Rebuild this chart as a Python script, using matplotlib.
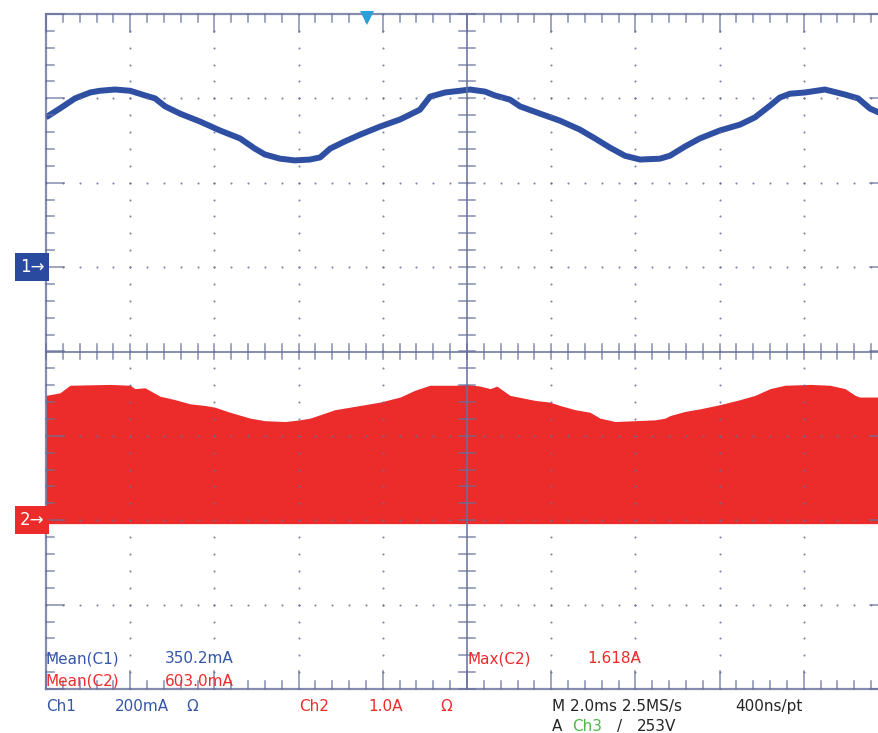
import numpy as np
import matplotlib
matplotlib.use('Agg')
import matplotlib.pyplot as plt

# Canal 1 (200 mA/div), curva azul: tiempo en ms, corriente en mA
t1_ms = [0.00, 0.33, 0.69, 1.05, 1.28, 1.64, 2.00, 2.35, 2.59, 2.83, 3.18, 3.66,
         4.13, 4.61, 4.96, 5.20, 5.56, 5.91, 6.27, 6.51, 6.75, 7.10, 7.46, 7.93,
         8.41, 8.88, 9.12, 9.48, 9.83, 10.07, 10.43, 10.66, 11.02, 11.26, 11.73,
         12.21, 12.68, 13.04, 13.40, 13.75, 14.11, 14.58, 14.82, 15.18, 15.53,
         16.01, 16.49, 16.84, 17.20, 17.43, 17.67, 18.03, 18.50, 18.98, 19.29,
         19.57, 19.79]
ch1_ma = [355, 376, 400, 414, 418, 421, 418, 407, 400, 381, 364, 345,
          324, 305, 281, 267, 257, 253, 255, 260, 281, 298, 314, 333,
          350, 373, 404, 414, 418, 421, 416, 407, 397, 381, 364,
          347, 326, 305, 283, 264, 255, 257, 264, 286, 305,
          324, 338, 355, 383, 402, 411, 414, 421, 409, 400,
          376, 366]

# Canal 2 (1.0 A/div), envolvente roja: tiempo en ms, corriente max en A
t2_ms = [0.00, 0.33, 0.57, 1.52, 2.00, 2.11, 2.35, 2.71, 3.06, 3.42, 3.78, 4.01,
         4.37, 4.85, 5.20, 5.68, 6.03, 6.27, 6.51, 6.86, 7.46, 7.93, 8.41, 8.76,
         9.12, 9.72, 10.00, 10.31, 10.55, 10.71, 11.02, 11.62, 11.97, 12.21,
         12.57, 12.92, 13.16, 13.52, 13.99, 14.47, 14.70, 14.82, 15.18, 15.53,
         16.01, 16.49, 16.84, 17.20, 17.55, 18.15, 18.62, 18.98, 19.22, 19.33,
         19.79]
ch2_max_a = [1.48, 1.51, 1.60, 1.61, 1.60, 1.56, 1.57, 1.47, 1.43, 1.38, 1.36, 1.34,
             1.28, 1.21, 1.18, 1.17, 1.19, 1.21, 1.25, 1.31, 1.36, 1.40, 1.46, 1.54,
             1.60, 1.60, 1.61, 1.59, 1.56, 1.59, 1.48, 1.42, 1.40, 1.36,
             1.31, 1.28, 1.21, 1.17, 1.18, 1.19, 1.21, 1.24, 1.29, 1.32,
             1.37, 1.43, 1.48, 1.56, 1.60, 1.61, 1.60, 1.56, 1.48, 1.46,
             1.46]
ch2_min_a = -0.04

# Escalas y posiciones de canal
ch1_escala = 200.0   # mA/div
ch1_offset = 1.0     # div
ch2_escala = 1.0     # A/div
ch2_offset = -2.0    # div
trigger_ms = 7.62

# Textos de medicion
mediciones = [('Mean(C1)', '350.2mA'), ('Mean(C2)', '603.0mA')]
max_c2 = ('Max(C2)', '1.618A')

grat = '#67709a'
azul = '#2f4fa3'
azul_txt = '#3557a8'
rojo = '#ec2b2b'
verde = '#4fb848'
gris = '#262626'

fig = plt.figure(figsize=(8.79, 7.33), dpi=100)
ax = fig.add_axes([46 / 879, 44 / 733, 842 / 879, 675 / 733])
ax.set_xlim(0, 20)
ax.set_ylim(-4, 4)
ax.axis('off')

# Senales
y1 = np.array(ch1_ma) / ch1_escala + ch1_offset
y2 = np.array(ch2_max_a) / ch2_escala + ch2_offset
ax.fill_between(t2_ms, ch2_min_a / ch2_escala + ch2_offset, y2, color=rojo, lw=0, zorder=1)
ax.plot(t1_ms, y1, color=azul, lw=4.3, solid_capstyle='butt', zorder=2)

# Reticula
gk = dict(color=grat, alpha=0.8, zorder=3, clip_on=False)
ax.plot([0, 20, 20, 0, 0], [-4, -4, 4, 4, -4], lw=1.6, **gk)
ax.plot([10, 10], [-4, 4], lw=1.4, **gk)
ax.plot([0, 20], [0, 0], lw=1.4, **gk)

menor_x = np.arange(0, 20.01, 0.4)
menor_y = np.arange(-4, 4.01, 0.2)
for x in menor_x:
    mayor = abs(x / 2 - round(x / 2)) < 1e-6
    lh = 0.213 if mayor else 0.095
    ax.plot([x, x], [4, 4 - lh], lw=1.1, **gk)
    ax.plot([x, x], [-4, -4 + lh], lw=1.1, **gk)
    ax.plot([x, x], [-0.083, 0.083], lw=1.1, **gk)
for y in menor_y:
    mayor = abs(y - round(y)) < 1e-6
    lw_ = 0.43 if mayor else 0.19
    ax.plot([0, lw_], [y, y], lw=1.1, **gk)
    ax.plot([20, 20 - lw_], [y, y], lw=1.1, **gk)
    ax.plot([10 - 0.19, 10 + 0.19], [y, y], lw=1.1, **gk)

for xv in [2, 4, 6, 8, 12, 14, 16, 18]:
    ax.plot(np.full(len(menor_y), xv), menor_y, ls='none', marker='o', ms=1.5,
            mew=0, color=grat, alpha=0.85, zorder=3)
for yv in [-3, -2, -1, 1, 2, 3]:
    ax.plot(menor_x, np.full(len(menor_x), yv), ls='none', marker='o', ms=1.5,
            mew=0, color=grat, alpha=0.85, zorder=3)

# Marcadores de canal y disparo
ax.text(-0.04, ch1_offset, '1\u2192', color='white', fontsize=12, ha='right', va='center',
        bbox=dict(boxstyle='square,pad=0.3', fc='#2a4aa0', ec='none'), zorder=5, clip_on=False)
ax.text(-0.04, ch2_offset, '2\u2192', color='white', fontsize=12, ha='right', va='center',
        bbox=dict(boxstyle='square,pad=0.3', fc=rojo, ec='none'), zorder=5, clip_on=False)
ax.plot(trigger_ms, 3.95, marker='v', ms=10, color='#2a9fd8', mew=0, zorder=6, clip_on=False)

# Textos
fs = 11
ax.text(0, -3.64, mediciones[0][0], color=azul_txt, fontsize=fs, va='center', zorder=6)
ax.text(2.83, -3.64, mediciones[0][1], color=azul_txt, fontsize=fs, va='center', zorder=6)
ax.text(0, -3.91, mediciones[1][0], color=rojo, fontsize=fs, va='center', zorder=6)
ax.text(2.83, -3.91, mediciones[1][1], color=rojo, fontsize=fs, va='center', zorder=6)
ax.text(10.02, -3.64, max_c2[0], color=rojo, fontsize=fs, va='center', zorder=6)
ax.text(12.85, -3.64, max_c2[1], color=rojo, fontsize=fs, va='center', zorder=6)

ax.text(0, -4.21, 'Ch1', color=azul_txt, fontsize=fs, va='center', clip_on=False)
ax.text(1.64, -4.21, '200mA', color=azul_txt, fontsize=fs, va='center', clip_on=False)
ax.text(3.33, -4.21, '\u03a9', color=azul_txt, fontsize=fs, va='center', clip_on=False)
ax.text(6.01, -4.21, 'Ch2', color=rojo, fontsize=fs, va='center', clip_on=False)
ax.text(7.65, -4.21, '1.0A', color=rojo, fontsize=fs, va='center', clip_on=False)
ax.text(9.36, -4.21, '\u03a9', color=rojo, fontsize=fs, va='center', clip_on=False)
ax.text(12.02, -4.21, 'M 2.0ms 2.5MS/s', color=gris, fontsize=fs, va='center', clip_on=False)
ax.text(16.37, -4.21, '400ns/pt', color=gris, fontsize=fs, va='center', clip_on=False)
ax.text(12.02, -4.44, 'A', color=gris, fontsize=fs, va='center', clip_on=False)
ax.text(12.49, -4.44, 'Ch3', color=verde, fontsize=fs, va='center', clip_on=False)
ax.text(13.56, -4.44, '/', color=gris, fontsize=fs, va='center', clip_on=False)
ax.text(14.04, -4.44, '253V', color=gris, fontsize=fs, va='center', clip_on=False)

fig.savefig('out.png', dpi=100)
